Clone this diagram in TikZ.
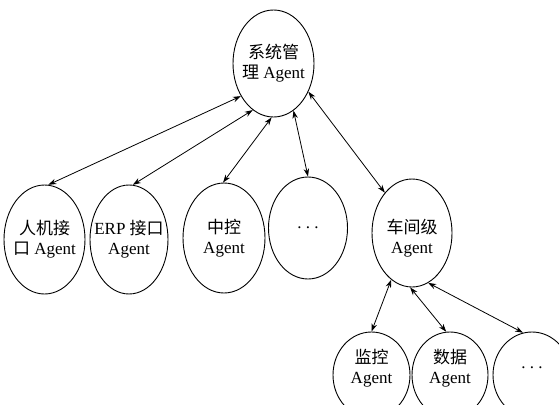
\documentclass[tikz,border=0pt]{standalone}
\usepackage{fontspec}
\setmainfont{Liberation Serif}
\newfontfamily\cjk{Noto Sans CJK SC}
\usetikzlibrary{arrows.meta, shapes.geometric}
\newcommand{\zh}[1]{{\cjk #1}}
\tikzset{
  >={Stealth[length=8pt,width=5.5pt]},
  % Ellissi degli agenti
  agent/.style={ellipse,draw,line width=0.9pt,minimum width=80pt,minimum height=108pt,inner sep=0pt},
  agent small/.style={agent,minimum width=77pt,minimum height=86pt},
  % Collegamenti
  link/.style={<->,line width=0.8pt}
}

\begin{document}
\begin{tikzpicture}[x=1pt,y=-1pt,font=\fontsize{17}{20}\selectfont,
    every label/.append style={align=center,inner sep=0pt}]
  \useasboundingbox (0,0) rectangle (559,404);
  \clip (0,0) rectangle (559,404);
  % livello superiore
  \node[agent,minimum width=81pt,minimum height=107pt,
    label={center:{\zh{系统管}\\\zh{理} Agent}}] (sys) at (273.5,63.5) {};
  % secondo livello
  \node[agent,minimum width=81pt,minimum height=109pt,
    label={center:{\zh{人机接}\\\zh{口} Agent}}] (hmi) at (44.5,239.5) {};
  \node[agent,minimum width=78pt,minimum height=109pt,
    label={center:{ERP \zh{接口}\\Agent}}] (erp) at (129,239.5) {};
  \node[agent,minimum width=82pt,minimum height=110pt,
    label={center:{\zh{中控}\\Agent}}] (zk) at (224,238) {};
  \node[agent,minimum width=79pt,minimum height=102pt,
    label={center:{.\ .\ .}}] (more) at (308,228) {};
  \node[agent,label={[yshift=-5pt]center:{\zh{车间级}\\Agent}}] (cjj) at (412,233) {};
  % livello officina
  \node[agent small,label={[yshift=7pt]center:{\zh{监控}\\Agent}}] (jk) at (371.5,375) {};
  \node[agent small,minimum width=76pt,
    label={[yshift=7pt]center:{\zh{数据}\\Agent}}] (sj) at (450,375) {};
  \node[agent small,minimum width=78pt,
    label={[yshift=7pt]center:{.\ .\ .}}] (more2) at (532,375) {};
  % collegamenti
  \draw[link] (sys.225) -- (hmi.86);
  \draw[link] (sys.246) -- (erp.86);
  \draw[link] (sys.268) -- (zk.91);
  \draw[link] (sys.293) -- (more.90);
  \draw[link] (sys.321) -- (cjj.124);
  \draw[link] (cjj.246) -- (jk.90);
  \draw[link] (cjj.268) -- (sj.95);
  \draw[link] (cjj.288) -- (more2.102);
\end{tikzpicture}
\end{document}
